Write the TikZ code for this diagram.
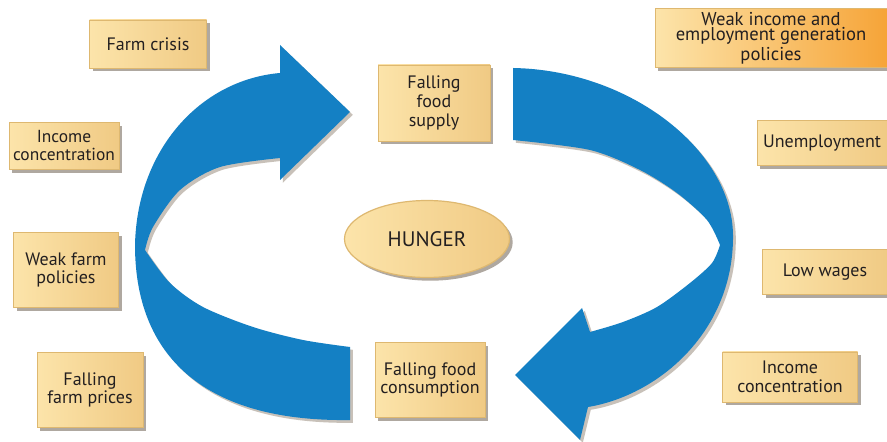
\documentclass[tikz,border=0pt]{standalone}
\usepackage{fontspec}
\setmainfont{PT Sans}
\usetikzlibrary{shadows,shapes.geometric}

\definecolor{ribbonblue}{RGB}{20,128,196}
\definecolor{tanlight}{RGB}{252,228,170}
\definecolor{tandark}{RGB}{240,202,132}
\definecolor{tanrim}{RGB}{222,184,112}
\definecolor{orangeend}{RGB}{246,164,56}
\definecolor{inktext}{RGB}{35,31,32}

\begin{document}
\begin{tikzpicture}[
  x=0.5pt, y=-0.5pt,
  box/.style={rectangle, align=center, inner sep=2pt, text=inktext,
    left color=tanlight, right color=tandark, draw=tanrim, line width=0.3pt,
    drop shadow={shadow xshift=1.6pt, shadow yshift=-1.6pt, opacity=0.4, fill=black!70!brown},
    font=\fontsize{9}{9.3}\selectfont},
  ribbon/.style={fill=ribbonblue,
    drop shadow={shadow xshift=1.4pt, shadow yshift=-1.4pt, opacity=0.3, fill=black!60!brown}}
]
\useasboundingbox[fill=white] (0,0) rectangle (887,442);

% left ribbon, arrow head at the top
\fill[ribbon] (350,347) -- (350,420)
  .. controls (215,422) and (135,365) .. (135,245)
  .. controls (137,150) and (200,80) .. (280,73)
  -- (280,45) -- (350,112) -- (280,180) -- (280,158)
  -- plot[smooth] coordinates {(280,158) (220,167) (180,190) (153,227) (145,250)}
  -- plot[smooth] coordinates {(145,250) (170,283) (203,307) (253,327) (303,340) (350,347)}
  -- cycle;

% right ribbon, arrow head at the bottom
\fill[ribbon] (513,140) -- (513,68)
  .. controls (630,70) and (732,150) .. (733,235)
  .. controls (734,330) and (660,395) .. (588,407)
  -- (580,440) -- (515,375) -- (582,308) -- (590,332)
  -- plot[smooth] coordinates {(590,332) (623,322) (657,307) (690,283) (712,263) (720,245)}
  -- plot[smooth] coordinates {(720,245) (707,220) (677,193) (640,170) (590,150) (513,140)}
  -- cycle;

% centre
\node[box, ellipse, minimum width=82.5pt, minimum height=38.5pt, draw=tanrim, line width=0.6pt,
  font=\fontsize{10.5}{11}\selectfont] (hunger) at (427,239) {HUNGER};

% cycle boxes
\node[box, minimum width=56pt, minimum height=38pt] (supply) at (434,103) {Falling\\food\\supply};
\node[box, minimum width=55pt, minimum height=37.5pt] (consumption) at (430,380) {Falling food\\consumption};

% left column
\node[box, minimum width=58.5pt, minimum height=24pt] (crisis) at (148,44) {Farm crisis};
\node[box, minimum width=54pt, minimum height=23.5pt, font=\fontsize{8.7}{9}\selectfont] (incomeleft) at (64,146) {Income\\concentration};
\node[box, minimum width=52.5pt, minimum height=37.5pt] (farmpolicy) at (66,270) {Weak farm\\policies};
\node[box, minimum width=53pt, minimum height=37.5pt] (prices) at (90,390) {Falling\\farm prices};

% right column
\node[box, minimum width=116pt, minimum height=28.5pt, right color=orangeend,
  font=\fontsize{9.3}{7.8}\selectfont] (weakincome) at (771,38) {Weak income and\\employment generation\\policies};
\node[box, minimum width=65pt, minimum height=22.5pt] (unemployment) at (822,143) {Unemployment};
\node[box, minimum width=62.5pt, minimum height=22.5pt] (wages) at (825,272) {Low wages};
\node[box, minimum width=67.5pt, minimum height=25pt] (incomeright) at (790,377) {Income\\concentration};
\end{tikzpicture}
\end{document}
